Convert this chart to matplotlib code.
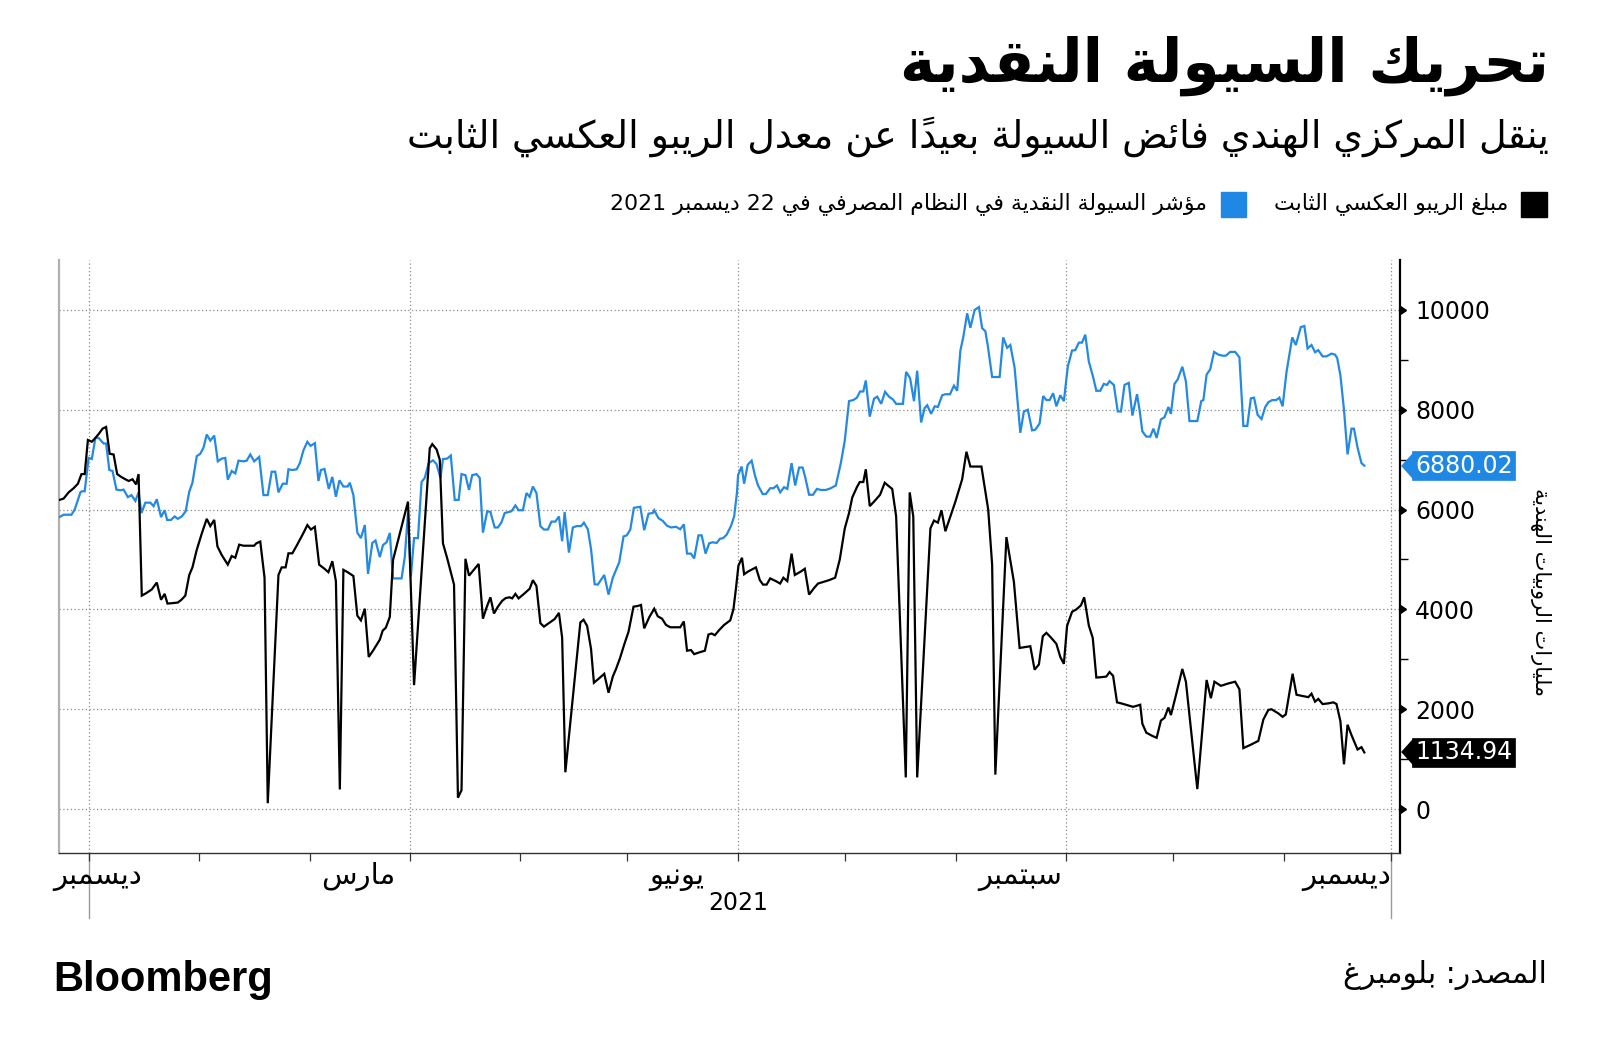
import re
import numpy as np
import pandas as pd
import matplotlib
matplotlib.use("Agg")
import matplotlib.pyplot as plt
import matplotlib.transforms as mtransforms
import matplotlib.dates as mdates
from matplotlib.patches import Rectangle
from matplotlib import markers

plt.rcParams['font.family'] = ['DejaVu Sans']

# ---------------- data (days since 2020-12-01, values in billion rupees) ----------------
blue_days = [-8.2, -7.0, -4.8, -3.9, -2.3, -1.9, -1.1, 0.0, 0.9, 1.9, 2.8, 4.2, 4.9, 5.8, 6.7, 7.8, 8.9, 9.8,
             11.0, 12.0, 13.1, 14.0, 14.8, 15.9, 17.3, 18.2, 19.1, 20.3, 21.3, 22.0, 23.1, 24.1, 25.0, 26.1,
             27.2, 28.2, 29.1, 30.3, 31.3, 32.2, 33.1, 34.1, 35.2, 36.2, 37.3, 38.3, 39.0, 40.1, 41.1, 42.0,
             43.4, 44.3, 45.3, 46.4, 47.8, 49.0, 50.2, 51.3, 52.3, 53.2, 54.4, 55.5, 56.0, 57.1, 58.3, 59.2,
             60.2, 61.3, 62.2, 63.4, 64.4, 65.1, 66.1,
             67.3, 68.3, 69.3, 70.3, 71.4, 72.6, 73.2, 74.2, 75.3, 76.3, 77.4, 78.3, 79.5, 80.4, 81.6, 82.5,
             83.5, 84.4, 85.3, 86.6, 87.7, 88.6, 89.5, 90.3, 91.2, 92.3, 93.3, 94.2, 95.3, 96.5, 97.5, 98.6,
             99.3, 100.5, 101.5, 102.6, 103.7, 104.5, 105.6, 106.6, 107.5, 108.7, 109.6, 110.5, 111.7, 112.6,
             113.8, 114.7, 115.7, 116.6, 118.5, 119.6, 120.5, 121.7, 122.7, 123.6, 124.5, 125.5, 126.6, 127.6,
             128.7, 129.7, 130.8, 131.8, 132.7, 133.4, 134.6, 135.7, 136.8, 138.0, 138.8, 139.9, 140.8,
             141.8, 142.7, 144.5, 145.7, 146.9, 148.7, 149.9, 150.8, 151.8, 152.8, 153.9, 154.6, 155.7, 156.9,
             158.1, 158.5, 159.7, 160.9, 162.1, 163.2, 164.6, 165.8, 166.8, 167.7, 168.8, 169.7, 170.9, 171.8,
             172.9, 173.9, 174.9, 176.0, 176.9, 177.8, 178.8, 180.0, 180.9, 181.7, 182.0, 183.0, 183.7, 184.7,
             185.8, 186.7, 187.6, 188.9, 189.8, 191.0, 191.9, 192.9, 193.8, 194.9, 195.8, 197.0, 198.0, 199.1,
             200.1, 200.8, 201.9, 203.0, 204.1, 205.2, 206.6, 208.0, 209.4, 210.8, 211.9, 213.1, 214.3, 215.3,
             216.2, 217.1,
             217.8, 218.9, 220.1, 221.0, 222.1, 223.2, 224.3, 225.4, 226.3, 227.4, 228.2, 229.1, 230.2, 231.3,
             232.2, 233.3, 234.3, 235.0, 236.1, 237.1, 238.0, 239.2, 240.1, 241.4, 242.5, 243.4, 244.3, 245.1,
             246.2, 247.1, 248.3, 249.5, 250.4, 251.3, 252.0, 253.2, 254.1, 255.3, 256.3, 257.4, 258.3, 259.5,
             261.1, 262.1, 263.2, 264.4, 265.3, 266.5, 267.5, 268.4, 269.3, 270.3, 271.2, 272.3, 273.3, 274.4,
             275.6, 276.5, 277.5, 278.4, 279.3, 280.3, 281.5, 282.4, 283.5, 284.5, 285.4, 286.1, 287.3, 288.4,
             289.3, 290.3, 291.5, 292.5,
             293.8, 294.5, 295.3, 296.4, 297.5, 298.4, 299.3, 300.5, 301.5, 302.6, 303.3, 304.3, 305.2, 306.5,
             307.5, 308.5, 309.6, 310.7, 311.8, 312.4, 313.3, 314.3, 315.4, 316.6, 317.8, 318.7, 319.9, 321.3,
             322.5, 323.6, 324.7, 325.7, 326.6, 327.6, 328.7, 329.7, 330.6, 331.7, 332.8, 333.7, 334.6, 335.7,
             337.3, 338.3, 339.7, 340.7, 341.6, 342.7, 343.7, 344.6, 345.8, 346.9, 348.3, 349.3, 349.9, 350.8,
             351.8, 352.8, 353.9, 354.6, 355.6, 356.7, 357.5]
blue_vals = [5849, 5897, 5897, 6000, 6345, 6366, 6366, 7035, 7014, 7435, 7435, 7324, 7324, 6793, 6773, 6400, 6387, 6400,
             6249, 6290, 6173, 6345, 5931, 6138, 6138, 6069, 6207, 5849, 5987, 5793, 5793, 5862, 5814, 5862,
             5966, 6359, 6538, 7069, 7118, 7242, 7504, 7380, 7483, 6966, 7021, 7035, 6600, 6773, 6724, 6980,
             6966, 6980, 7104, 6966, 7056, 6290, 6290, 6759, 6759, 6345, 6518, 6518, 6807, 6793, 6807, 6931,
             7187, 7359, 7276, 7331, 6573, 6793, 6814,
             6414, 6655, 6256, 6587, 6462, 6462, 6538, 6290, 5538, 5428, 5690, 4711, 5331, 5380, 5049, 5290,
             5345, 5531, 4621, 4621, 4621, 5049, 5931, 4655, 5428, 5428, 6552, 6635, 6931, 6987, 6911, 6635,
             7014, 7021, 7083, 6193, 6193, 6711, 6690, 6394, 6690, 6711, 6635, 5538, 5966, 5952,
             5642, 5642, 5745, 5931, 5966, 6083, 5987, 5987, 6331, 6256, 6462, 6331, 5669, 5600,
             5600, 5759, 5759, 5862, 5366, 5952, 5138, 5642, 5669, 5669, 5738, 5607, 5207,
             4504, 4497, 4690, 4297, 4635, 4945, 5462, 5483, 5600, 6035, 6049, 6056, 5587, 5918,
             5931, 5987, 5828, 5773, 5676, 5642, 5655, 5607, 5704, 5118, 5118, 5021, 5483, 5483,
             5118, 5324, 5345, 5331, 5414, 5428, 5497, 5669, 5862, 6345, 6690, 6862, 6518, 6897,
             6980, 6690, 6483, 6311, 6311, 6428, 6428, 6483, 6345, 6449, 6414, 6931, 6483, 6842,
             6842, 6655, 6297, 6297, 6414, 6393, 6393, 6428, 6483, 6931, 7380, 8173, 8194, 8242,
             8366, 8366,
             8587, 7862, 8221, 8262, 8118, 8359, 8262, 8207, 8118, 8118, 8118, 8759, 8635, 8173,
             8780, 7745, 8035, 8090, 7918, 8069, 8056, 8290, 8311, 8311, 8483, 8380, 9187, 9449,
             9932, 9642, 10000, 10056, 9635, 9573, 9276, 8656, 8656, 8656, 9449, 9242, 9297, 8842,
             7538, 7966, 8000, 7587, 7601, 7725, 8276, 8194, 8194, 8331, 8069, 8290, 8173, 8862,
             9187, 9194, 9345, 9345, 9504, 8966, 8656, 8380, 8380, 8518, 8497, 8573, 8497, 7966,
             7966, 8497, 8538, 7883,
             8311, 8000, 7566, 7462, 7462, 7621, 7435, 7807, 7849, 8055, 7918, 8518, 8607, 8862,
             8566, 7773, 7773, 7773, 8173, 8194, 8704, 8807, 9159, 9104, 9083, 9083, 9159, 9159,
             9049, 7676, 7676, 8228, 8242, 7897, 7814, 8049, 8152, 8194, 8194, 8242, 8069, 8759,
             9449, 9297, 9656, 9677, 9228, 9297, 9152, 9194, 9070, 9070, 9125, 9104, 9035, 8690,
             8000, 7104, 7621, 7621, 7242, 6931, 6880.02]

black_days = [-8.2, -7.0, -5.6, -4.2, -3.0, -2.0, -1.1, -0.2, 0.9, 1.9, 3.0, 3.9, 4.9, 5.9, 7.0, 8.0, 9.1, 10.3,
              11.2, 12.3, 13.3, 14.0, 14.9, 16.1, 17.7, 19.1, 20.3, 21.3, 22.1, 23.3, 25.0, 26.0, 27.1, 28.2,
              29.1, 30.3, 31.7, 33.1, 34.1, 35.2, 36.1, 37.3, 39.0, 40.1, 41.1, 42.2, 43.4, 44.8, 46.4, 47.0,
              48.1, 49.3, 50.2, 53.2, 54.1, 55.2, 56.0, 57.1, 58.3, 60.2, 61.3, 62.3, 63.4, 64.6, 66.1,
              67.2, 68.3, 69.3, 70.4, 71.4, 72.6, 74.2, 75.3, 76.3, 77.4, 78.5, 79.7, 81.6, 82.4, 83.3, 84.4,
              85.3, 89.5, 91.2, 95.6, 96.3, 97.5, 98.4, 99.3, 100.5, 102.4, 103.5, 104.5, 105.6, 106.6, 107.7,
              109.3, 110.5, 111.5, 112.6, 113.6, 114.7, 115.9, 116.9, 118.0, 118.7, 119.6, 120.5, 122.0, 123.6,
              124.5, 125.5, 126.6, 127.6, 128.7, 130.6, 131.8, 132.7, 133.6, 137.8, 138.7, 139.7, 140.8, 141.6,
              143.1, 144.5, 145.7, 146.9, 147.8, 148.9, 150.1, 151.3, 152.7, 153.9, 154.8, 155.7, 157.1, 158.5,
              159.5, 160.7, 161.8, 163.0, 164.4, 165.8, 166.8, 167.7, 168.8, 169.7, 171.1, 172.7, 173.7, 174.6,
              175.5, 176.7, 178.1, 179.8, 180.7, 181.4, 182.1, 183.1, 183.7, 184.8, 187.0, 188.1, 189.0, 190.0,
              191.0, 192.6, 193.8, 194.7, 195.8, 197.0, 197.9, 199.6, 200.7, 201.9, 203.3, 204.4, 205.9, 207.5,
              209.2, 210.5, 211.9, 213.1, 214.0, 215.3, 216.1, 217.1,
              217.8, 218.9, 220.1, 221.8, 223.1, 224.0, 225.2, 226.3, 229.0, 230.1, 231.1, 232.2, 235.9, 236.9,
              238.0, 239.0, 240.1, 241.5, 242.9, 244.8, 246.0, 247.1, 249.0, 250.2, 252.1, 253.2, 254.1, 257.2,
              258.3, 259.3, 260.9, 263.9, 265.1, 266.3, 267.4, 268.4, 269.7, 271.2, 272.3, 273.3, 274.2, 275.6,
              276.8, 278.1, 279.0, 280.3, 281.4, 282.4, 283.7, 285.2, 286.1, 287.1, 288.2, 289.4, 291.0, 292.7,
              294.7, 295.3, 296.4, 298.0, 299.3, 300.5, 301.5, 302.6, 303.3, 304.5, 306.5, 307.5, 310.7, 313.3,
              314.5, 315.5, 317.3, 319.4, 321.3, 322.5, 323.6, 325.7, 327.8, 329.2, 330.6, 331.5, 333.4, 334.6,
              335.5, 337.4, 338.5, 341.8, 342.7, 343.7, 344.6, 345.8, 347.4, 348.8, 349.7, 350.8, 351.8, 352.8,
              353.9, 355.6, 356.7, 357.5]
black_vals = [6193, 6221, 6345, 6428, 6518, 6711, 6711, 7394, 7359, 7435, 7531, 7621, 7656, 7118, 7104, 6711, 6656, 6607,
              6573, 6607, 6504, 6711, 4276, 4324, 4400, 4538, 4193, 4311, 4117, 4124, 4138, 4193, 4276, 4690,
              4842, 5193, 5518, 5814, 5669, 5793, 5262, 5090, 4897, 5069, 5035, 5297, 5276, 5276, 5276, 5324,
              5359, 4635, 117, 4690, 4842, 4842, 5124, 5124, 5276, 5531, 5690, 5600, 5655, 4897, 4814,
              4745, 4966, 4566, 393, 4793, 4745, 4669, 3876, 3780, 4014, 3048, 3173, 3393, 3573, 3635, 3849,
              4987, 6159, 2483, 7228, 7311, 7207, 7000, 5324, 5021, 4497, 228, 379, 5014, 4676, 4773,
              4911, 3814, 4035, 4242, 3918, 4055, 4173, 4228, 4242, 4221, 4311, 4221, 4311, 4414,
              4586, 4469, 3724, 3655, 3711, 3807, 3931, 3435, 738, 3738, 3793, 3669, 3207, 2531,
              2621, 2710, 2331, 2655, 2807, 3021, 3297, 3552, 4055, 4069, 4090, 3621, 3842, 4014,
              3862, 3814, 3690, 3642, 3642, 3642, 3759, 3173, 3186, 3104, 3138, 3173, 3497, 3517,
              3483, 3586, 3690, 3780, 4000, 4414, 4876, 5035, 4704, 4759, 4842, 4586, 4497, 4497,
              4621, 4566, 4518, 4635, 4566, 5118, 4690, 4759, 4814, 4297, 4428, 4518, 4552, 4586,
              4635, 5000, 5621, 5931, 6242, 6449, 6552, 6552,
              6807, 6069, 6159, 6297, 6538, 6483, 6414, 5862, 634, 6345, 5862, 634, 5621, 5780,
              5738, 5987, 5566, 5862, 6159, 6607, 7159, 6862, 6862, 6862, 6000, 4897, 690, 5449,
              4980, 4552, 3228, 3262, 2793, 2897, 3462, 3531, 3435, 3311, 3048, 2910, 3669, 3952,
              4000, 4083, 4242, 3676, 3428, 2635, 2642, 2655, 2745, 2669, 2138, 2117, 2083, 2048,
              2090, 1710, 1531, 1469, 1428, 1773, 1828, 2035, 1883, 2221, 2807, 2552, 400, 2586,
              2221, 2552, 2469, 2517, 2552, 2400, 1221, 1290, 1366, 1793, 1986, 2000, 1917, 1848,
              1897, 2711, 2290, 2242, 2311, 2152, 2207, 2104, 2117, 2138, 2104, 1759, 897, 1690,
              1483, 1193, 1240, 1134.94]

y_ticks = [0, 2000, 4000, 6000, 8000, 10000]
y_minor = [1000, 3000, 5000, 7000, 9000]
quarter_days = [0, 90, 182, 274, 365]            # Dec 1, Mar 1, Jun 1, Sep 1, Dec 1
month_labels = ['ديسمبر', 'مارس', 'يونيو', 'سبتمبر', 'ديسمبر']
year_label = '2021'
last_blue = '6880.02'
last_black = '1134.94'

title = 'تحريك السيولة النقدية'
subtitle = 'ينقل المركزي الهندي فائض السيولة بعيدا\u064b عن معدل الريبو العكسي الثابت'
legend_black = 'مبلغ الريبو العكسي الثابت'
legend_blue = 'مؤشر السيولة النقدية في النظام المصرفي في 22 ديسمبر 2021'
y_label = 'مليارات الروبيات الهندية'
source = 'المصدر: بلومبرغ'

# ---------------- minimal Arabic shaping + RTL ordering ----------------
MARKS = set(chr(c) for c in range(0x064B, 0x0653))
DUAL = {'ئ': 0xFE89, 'ب': 0xFE8F, 'ت': 0xFE95, 'ث': 0xFE99, 'ج': 0xFE9D, 'ح': 0xFEA1, 'خ': 0xFEA5,
        'س': 0xFEB1, 'ش': 0xFEB5, 'ص': 0xFEB9, 'ض': 0xFEBD, 'ط': 0xFEC1, 'ظ': 0xFEC5, 'ع': 0xFEC9,
        'غ': 0xFECD, 'ف': 0xFED1, 'ق': 0xFED5, 'ك': 0xFED9, 'ل': 0xFEDD, 'م': 0xFEE1, 'ن': 0xFEE5,
        'ه': 0xFEE9, 'ي': 0xFEF1}
RIGHT = {'آ': 0xFE81, 'أ': 0xFE83, 'ؤ': 0xFE85, 'إ': 0xFE87, 'ا': 0xFE8D, 'ة': 0xFE93, 'د': 0xFEA9,
         'ذ': 0xFEAB, 'ر': 0xFEAD, 'ز': 0xFEAF, 'و': 0xFEED, 'ى': 0xFEEF}
LAMALEF = {'آ': 0xFEF5, 'أ': 0xFEF7, 'إ': 0xFEF9, 'ا': 0xFEFB}


def ar(text):
    chars = list(text)
    n = len(chars)

    def prev_letter(i):
        j = i - 1
        while j >= 0 and chars[j] in MARKS:
            j -= 1
        return chars[j] if j >= 0 else None

    def next_idx(i):
        j = i + 1
        while j < n and chars[j] in MARKS:
            j += 1
        return j if j < n else None

    clusters = []
    i = 0
    while i < n:
        c = chars[i]
        if c in MARKS:
            if clusters:
                clusters[-1] += c
            else:
                clusters.append(c)
            i += 1
            continue
        pj = prev_letter(i) in DUAL
        j = next_idx(i)
        nxt = chars[j] if j is not None else None
        if c == 'ل' and nxt in LAMALEF:
            clusters.append(chr(LAMALEF[nxt] + (1 if pj else 0)))
            i = j + 1
            continue
        if c in DUAL:
            nj = nxt is not None and (nxt in DUAL or nxt in RIGHT)
            b = DUAL[c]
            clusters.append(chr(b + (3 if (pj and nj) else 1 if pj else 2 if nj else 0)))
        elif c in RIGHT:
            clusters.append(chr(RIGHT[c] + (1 if pj else 0)))
        else:
            clusters.append(c)
        i += 1
    tokens = []
    for cl in clusters:
        if re.match(r'[0-9A-Za-z.]', cl):
            if tokens and tokens[-1][0] == 'L':
                tokens[-1][1].append(cl)
            else:
                tokens.append(['L', [cl]])
        else:
            tokens.append(['R', [cl]])
    return ''.join(''.join(t[1]) for t in reversed(tokens))


# ---------------- figure ----------------
W, H = 1600, 1058
BLUE = '#2489e3'
BLUE_BOX = '#1f88e5'
fig = plt.figure(figsize=(W / 100, H / 100), dpi=100)
ax_l, ax_r, ax_t, ax_b = 59, 1400, 260, 853
ax = fig.add_axes([ax_l / W, 1 - ax_b / H, (ax_r - ax_l) / W, (ax_b - ax_t) / H])

BASE = pd.Timestamp('2020-12-01')


def to_dates(days):
    return BASE + pd.to_timedelta(np.asarray(days, dtype=float), unit='D')


ax.plot(to_dates(blue_days), blue_vals, color=BLUE, lw=1.6, zorder=3, solid_joinstyle='miter')
ax.plot(to_dates(black_days), black_vals, color='black', lw=1.6, zorder=4, solid_joinstyle='miter')

ax.set_xlim(to_dates([-8.3, 367.5]))
ax.set_ylim(-880, 11000)

# grid
dotted = (0, (1, 2))
for yv in y_ticks:
    ax.axhline(yv, color='#8c8c8c', lw=0.9, ls=dotted, zorder=1)
for d in to_dates(quarter_days):
    ax.axvline(d, color='#8c8c8c', lw=0.9, ls=dotted, zorder=1)

# spines
ax.spines['top'].set_visible(False)
ax.spines['left'].set_color('#b0b0b0')
ax.spines['left'].set_linewidth(1.6)
ax.spines['right'].set_color('black')
ax.spines['right'].set_linewidth(1.6)
ax.spines['bottom'].set_color('#333333')
ax.spines['bottom'].set_linewidth(1.0)

# x ticks: month starts, no labels
ax.xaxis.set_major_locator(mdates.MonthLocator())
ax.tick_params(axis='x', which='major', length=6, width=0.9, color='#333333', direction='out',
               labelbottom=False)

# y axis on the right
ax.yaxis.tick_right()
ax.set_yticks(y_ticks)
ax.set_yticks(y_minor, minor=True)
ax.set_yticklabels([str(v) for v in y_ticks])
ax.tick_params(axis='y', which='major', length=8, width=1, color='black', labelsize=17, pad=3,
               left=False, right=True, labelleft=False, labelright=True)
ax.tick_params(axis='y', which='minor', length=6, width=1, color='black', direction='out',
               left=False, right=True)
for t in ax.yaxis.get_major_ticks():
    t.tick2line.set_marker(markers.CARETRIGHTBASE)
    t.tick2line.set_markersize(6)

# month labels and year
xtr = ax.get_xaxis_transform()
label_days = [-10.0] + [d - 24.8 for d in quarter_days[1:]]
for d, lab in zip(label_days, month_labels):
    ax.text(to_dates([d])[0], -0.040, ar(lab), transform=xtr, ha='left', va='center',
            fontsize=21, clip_on=False)
ax.text(to_dates([quarter_days[2]])[0], -0.084, year_label, transform=xtr, ha='center', va='center',
        fontsize=17, clip_on=False)
for d in [quarter_days[0], quarter_days[-1]]:
    ax.plot([to_dates([d])[0]] * 2, [0, -0.11], transform=xtr, color='#9a9a9a', lw=1.0,
            clip_on=False, zorder=1)

# last-value tags
ttag = mtransforms.blended_transform_factory(ax.transAxes, ax.transData)
tag_txt = mtransforms.offset_copy(ttag, fig=fig, x=15, y=0, units='dots')
tag_tri = mtransforms.offset_copy(ttag, fig=fig, x=12.5, y=0, units='dots')
for val, col, txt in [(blue_vals[-1], BLUE_BOX, last_blue), (black_vals[-1], 'black', last_black)]:
    ax.text(1.0, val, txt, transform=tag_txt, ha='left', va='center', color='white', fontsize=17,
            bbox=dict(boxstyle='square,pad=0.12', fc=col, ec=col, lw=0.5), clip_on=False, zorder=6)
    ax.plot([1.0], [val], transform=tag_tri, marker=[(-0.9, 0), (0, 1), (0, -1)], ms=19,
            color=col, mec=col, clip_on=False, zorder=6)

# y label
fig.text(1541 / W, 1 - 592 / H, ar(y_label), rotation=-90, ha='center', va='center', fontsize=15)

# title/subtitle
fig.text(1549 / W, 1 - 66 / H, ar(title), ha='right', va='center', fontsize=43, fontweight='bold')
fig.text(1549 / W, 1 - 137 / H, ar(subtitle), ha='right', va='center', fontsize=27.3)

# legend
fig.add_artist(Rectangle((1521 / W, 1 - 217 / H), 26 / W, 25 / H, transform=fig.transFigure,
                         color='black'))
fig.text(1508 / W, 1 - 204 / H, ar(legend_black), ha='right', va='center', fontsize=15.8)
fig.add_artist(Rectangle((1221 / W, 1 - 217 / H), 25 / W, 25 / H, transform=fig.transFigure,
                         color=BLUE_BOX))
fig.text(1207 / W, 1 - 204 / H, ar(legend_blue), ha='right', va='center', fontsize=15.8)

# footer
fig.text(53 / W, 1 - 980 / H, 'Bloomberg', ha='left', va='center', fontsize=30, fontweight='bold',
         family=['Liberation Sans', 'DejaVu Sans'])
fig.text(1547 / W, 1 - 975 / H, ar(source), ha='right', va='center', fontsize=21.5)

fig.savefig('out.png', dpi=100, facecolor='white')
